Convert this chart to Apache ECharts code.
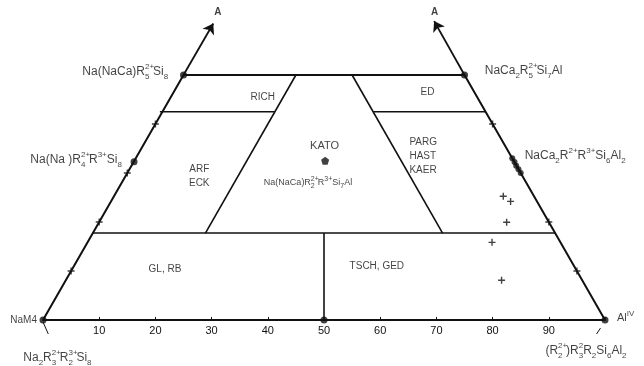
<!DOCTYPE html>
<html>
<head>
<meta charset="utf-8">
<script src="https://cdn.jsdelivr.net/npm/echarts@6/dist/echarts.min.js"></script>
<style>
  html, body { margin: 0; padding: 0; background: #fff; }
  #chart { width: 644px; height: 366px; }
</style>
</head>
<body>
<div id="chart"></div>
<script>
// x: Al(IV) scale 0..100, y: A-site occupancy (0 at base, 1 at the top line)
const FONT = '"Liberation Sans", Arial, sans-serif';

// diagram boundaries
const outline = [[0, 0], [25, 1], [75, 1], [100, 0]];
const richBase = [[20.8, 0.85], [41.2, 0.85]];
const edBase = [[58.8, 0.85], [78.8, 0.85]];
const midLine = [[8.9, 0.355], [91.1, 0.355]];
const leftInner = [[45, 1], [28.9, 0.355]];
const rightInner = [[55, 1], [71.1, 0.355]];
const centreLine = [[50, 0.355], [50, 0]];
const leftArrow = [[25, 1], [30.3, 1.21]];
const rightArrow = [[75, 1], [69.6, 1.22]];
const cornerMarks = [
  [[0, -0.008], [0.94, -0.057]],
  [[99.2, -0.033], [98.5, -0.057]]
];

// points
const endMembers = [[0, 0], [25, 1], [75, 1], [100, 0], [16.2, 0.646], [50, 0]];
const rightCluster = [[83.5, 0.66], [83.9, 0.645], [84.2, 0.63], [84.6, 0.615], [85, 0.6]];
const samples = [[81.9, 0.505], [83.2, 0.484], [82.5, 0.399], [79.9, 0.317], [81.6, 0.162]];
const edgeTicks = [[5, 0.2], [10, 0.4], [15, 0.6], [20, 0.8], [80, 0.8], [90, 0.4], [95, 0.2]];
const kato = [[50.2, 0.65]];

const xTickLabels = [10, 20, 30, 40, 50, 60, 70, 80, 90];

// sp / tp: superscript stacked over the following subscript (zero width)
function script(size, valign, width) {
  const s = { fontSize: size, lineHeight: size + 1, verticalAlign: valign, align: 'left', fontFamily: FONT };
  if (width != null) s.width = width;
  return s;
}
const rich = {
  sp: script(8, 'top', 0),
  su: script(8, 'top'),
  sb: script(8, 'bottom'),
  sbw: script(8, 'bottom', 8),
  tp: script(7, 'top', 0),
  tu: script(7, 'top'),
  tb: script(7, 'bottom'),
  tbw: script(7, 'bottom', 7)
};

function txt(value, text, opts) {
  return {
    value: value,
    label: Object.assign({
      show: true,
      formatter: text,
      position: 'inside',
      color: '#111',
      fontFamily: FONT,
      fontSize: 10,
      rich: rich
    }, opts || {})
  };
}

// formulas are anchored at their left edge
const formula = { fontSize: 12, lineHeight: 18, align: 'left' };

const annotations = [
  txt([7.0, 1.012], 'Na(NaCa)R{sp|2+}{sbw|5}Si{sb|8}', formula),
  txt([-2.26, 0.653], 'Na(Na )R{sp|2+}{sbw|4}R{su|3+}Si{sb|8}', formula),
  txt([78.6, 1.016], 'NaCa{sb|2}R{sp|2+}{sbw|5}Si{sb|7}Al', formula),
  txt([85.7, 0.669], 'NaCa{sb|2}R{su|2+}R{su|3+}Si{sb|6}Al{sb|2}', formula),
  txt([-3.5, -0.155], 'Na{sb|2}R{sp|2+}{sbw|3}R{sp|3+}{sbw|2}Si{sb|8}', formula),
  txt([89.4, -0.127], '(R{sp|2+}{sbw|2})R{sp|2}{sb|3}R{sb|2}Si{sb|6}Al{sb|2}', formula),
  txt([39.3, 0.563], 'Na(NaCa)R{tp|2+}{tbw|2}R{tu|3+}Si{tb|7}Al', { fontSize: 9, lineHeight: 14, align: 'left' }),
  txt([0, 0], 'NaM4', { position: 'left', distance: 6, fontSize: 10 }),
  txt([100, 0], 'Al{su|IV}', { position: 'right', distance: 12, fontSize: 11, lineHeight: 16, offset: [0, -2] }),
  txt([31.1, 1.257], 'A', { fontWeight: 'bold', fontSize: 10 }),
  txt([69.7, 1.257], 'A', { fontWeight: 'bold', fontSize: 10 }),
  txt([39.1, 0.91], 'RICH'),
  txt([68.4, 0.93], 'ED'),
  txt([27.8, 0.588], 'ARF\nECK', { lineHeight: 14 }),
  txt([65.2, 0.669], 'PARG\nHAST\nKAER', { lineHeight: 14, align: 'left' }),
  txt([50.1, 0.71], 'KATO', { fontSize: 11 }),
  txt([21.7, 0.208], 'GL, RB'),
  txt([59.4, 0.22], 'TSCH, GED')
];

const chart = echarts.init(document.getElementById('chart'));

chart.setOption({
  backgroundColor: '#fff',
  animation: false,
  grid: { left: 43, right: 39, top: 75, bottom: 46 },
  xAxis: {
    type: 'value',
    min: 0,
    max: 100,
    interval: 10,
    splitLine: { show: false },
    axisLine: { lineStyle: { color: '#111', width: 2 } },
    axisTick: { show: true, inside: true, length: 3, lineStyle: { color: '#111' } },
    axisLabel: {
      color: '#111',
      fontFamily: FONT,
      fontSize: 11,
      margin: 5,
      formatter: function (v) { return xTickLabels.indexOf(v) >= 0 ? String(v) : ''; }
    }
  },
  yAxis: { type: 'value', min: 0, max: 1, show: false },
  series: [
    {
      type: 'lines',
      coordinateSystem: 'cartesian2d',
      polyline: true,
      clip: false,
      silent: true,
      lineStyle: { color: '#111', width: 1.6, opacity: 1 },
      data: [
        { coords: outline, lineStyle: { width: 2 } },
        { coords: [outline[1], outline[2]], lineStyle: { width: 2.2 } },
        { coords: richBase },
        { coords: edBase },
        { coords: midLine },
        { coords: leftInner },
        { coords: rightInner },
        { coords: centreLine },
        { coords: cornerMarks[0], lineStyle: { width: 1 } },
        { coords: cornerMarks[1], lineStyle: { width: 1 } }
      ]
    },
    {
      type: 'lines',
      coordinateSystem: 'cartesian2d',
      clip: false,
      silent: true,
      symbol: ['none', 'arrow'],
      symbolSize: [5, 10],
      lineStyle: { color: '#111', width: 1.8, opacity: 1 },
      data: [{ coords: leftArrow }, { coords: rightArrow }]
    },
    {
      type: 'scatter',
      clip: false,
      silent: true,
      symbol: 'circle',
      symbolSize: 7,
      itemStyle: { color: '#111' },
      data: endMembers
    },
    {
      type: 'scatter',
      clip: false,
      silent: true,
      symbol: 'circle',
      symbolSize: 6,
      itemStyle: { color: '#111' },
      data: rightCluster
    },
    {
      type: 'scatter',
      clip: false,
      silent: true,
      symbol: 'path://M4,0H6V4H10V6H6V10H4V6H0V4H4Z',
      symbolSize: 7,
      itemStyle: { color: '#111' },
      data: samples.concat(edgeTicks)
    },
    {
      type: 'scatter',
      clip: false,
      silent: true,
      symbol: 'path://M5,0L10,3.8L8.1,10L1.9,10L0,3.8Z',
      symbolSize: 8,
      itemStyle: { color: '#111' },
      data: kato
    },
    {
      type: 'scatter',
      clip: false,
      silent: true,
      symbolSize: 0,
      data: annotations
    }
  ]
});
</script>
</body>
</html>
